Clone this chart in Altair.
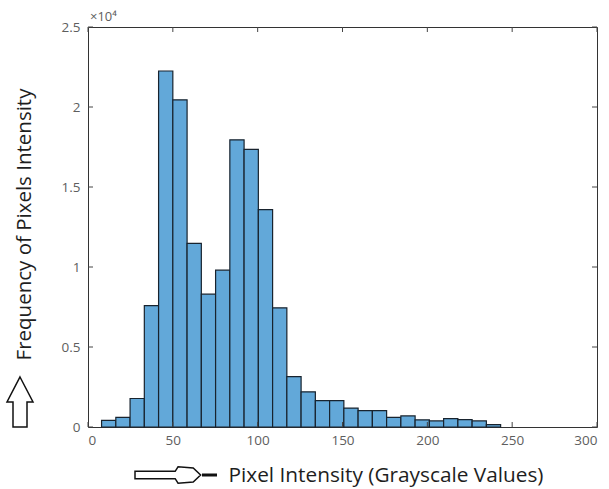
import altair as alt
import pandas as pd

# Histogram bins (left / right edges) and counts
bin_left = [8.0, 16.4, 24.8, 33.2, 41.6, 50.0, 58.4, 66.8, 75.2, 83.6, 92.0, 100.4, 108.8, 117.2,
            125.6, 134.0, 142.4, 150.8, 159.2, 167.6, 176.0, 184.4, 192.8, 201.2, 209.6, 218.0, 226.4, 234.8]
bin_right = [16.4, 24.8, 33.2, 41.6, 50.0, 58.4, 66.8, 75.2, 83.6, 92.0, 100.4, 108.8, 117.2, 125.6,
             134.0, 142.4, 150.8, 159.2, 167.6, 176.0, 184.4, 192.8, 201.2, 209.6, 218.0, 226.4, 234.8, 243.2]
counts = [420, 600, 1780, 7580, 22250, 20450, 11480, 8300, 9800, 17950, 17350, 13580, 7450, 3150,
          2200, 1650, 1650, 1180, 1020, 1020, 600, 690, 450, 380, 520, 460, 380, 150]

x_ticks = [0, 50, 100, 150, 200, 250, 300]
y_ticks = [0, 5000, 10000, 15000, 20000, 25000]

x_title = "Pixel Intensity (Grayscale Values)"
y_title = "Frequency of Pixels Intensity"
exp_label = "×10⁴"

W, H = 509, 400
xs = alt.Scale(domain=[0, 300], nice=False, zero=False)
ys = alt.Scale(domain=[0, 25000], nice=False)

LABEL_FONT = "Open Sans"
TITLE_FONT = "Open Sans"

x_axis = alt.Axis(values=x_ticks, tickSize=0, domain=False, grid=False,
                  labelFont=LABEL_FONT, labelFontSize=13.5, labelColor="#5e5e5e",
                  labelPadding=6, title=x_title, titleFont=TITLE_FONT,
                  titleFontSize=20.8, titleFontWeight="normal", titleColor="#1e1e1e",
                  titleX=140, titleY=48, titleAlign="left", titleBaseline="middle",
                  titleAnchor="start")
y_axis = alt.Axis(values=y_ticks, tickSize=0, domain=False, grid=False,
                  labelExpr="datum.value / 10000",
                  labelFont=LABEL_FONT, labelFontSize=13.5, labelColor="#5e5e5e",
                  labelPadding=8, title=y_title, titleFont=TITLE_FONT,
                  titleFontSize=20.5, titleFontWeight="normal", titleColor="#1e1e1e",
                  titleX=-64, titleY=197, titleAngle=-90, titleAlign="center",
                  titleBaseline="middle")

bars_df = pd.DataFrame({"x0": bin_left, "x1": bin_right, "count": counts})

bars = alt.Chart(bars_df).mark_rect(
    fill="#62a8d9", stroke="#18232e", strokeWidth=1.2, opacity=1
).encode(
    x=alt.X("x0:Q", scale=xs, axis=x_axis),
    x2="x1:Q",
    y=alt.Y("count:Q", scale=ys, axis=y_axis),
    y2=alt.datum(0),
)

xt_df = pd.DataFrame({"x0": x_ticks})
yt_df = pd.DataFrame({"count": y_ticks})
tick_color = "#444444"

xt_bottom = alt.Chart(xt_df).mark_rule(color=tick_color, strokeWidth=1).encode(
    x=alt.X("x0:Q", scale=xs, axis=x_axis), y=alt.value(H), y2=alt.value(H - 5))
xt_top = alt.Chart(xt_df).mark_rule(color=tick_color, strokeWidth=1).encode(
    x=alt.X("x0:Q", scale=xs, axis=x_axis), y=alt.value(0), y2=alt.value(5))
yt_left = alt.Chart(yt_df).mark_rule(color=tick_color, strokeWidth=1).encode(
    y=alt.Y("count:Q", scale=ys, axis=y_axis), x=alt.value(0), x2=alt.value(5))
yt_right = alt.Chart(yt_df).mark_rule(color=tick_color, strokeWidth=1).encode(
    y=alt.Y("count:Q", scale=ys, axis=y_axis), x=alt.value(W), x2=alt.value(W - 5))

one = pd.DataFrame({"a": [0]})

exp_text = alt.Chart(one).mark_text(
    text=exp_label, font=LABEL_FONT, fontSize=13, color="#5e5e5e", align="left", baseline="middle"
).encode(x=alt.value(2), y=alt.value(-10))

up_arrow_path = "M0,-1 L0.52,0 L0.28,0 L0.28,1 L-0.28,1 L-0.28,0 L-0.52,0 Z"
right_arrow_path = ("M-1,-0.09 L-0.02,-0.09 L0.05,-0.2 L0.42,-0.17 L0.6,0 L0.42,0.17 "
                    "L0.05,0.2 L-0.02,0.09 L-1,0.09 Z")

up_arrow = alt.Chart(one).mark_point(
    shape=up_arrow_path, size=2500, filled=True, fill="white", stroke="#111111",
    strokeWidth=1.5, opacity=1
).encode(x=alt.value(-68), y=alt.value(375))

right_arrow = alt.Chart(one).mark_point(
    shape=right_arrow_path, size=6724, filled=True, fill="white", stroke="#111111",
    strokeWidth=1.5, opacity=1
).encode(x=alt.value(88), y=alt.value(H + 48))

arrow_dash = alt.Chart(one).mark_rule(color="#111111", strokeWidth=3).encode(
    x=alt.value(114), x2=alt.value(129), y=alt.value(H + 48))

chart = alt.layer(
    bars, xt_bottom, xt_top, yt_left, yt_right, exp_text, up_arrow, right_arrow, arrow_dash
).properties(
    width=W, height=H,
    padding={"left": 88, "top": 27, "right": 12, "bottom": 62},
    autosize=alt.AutoSizeParams(type="none"),
).configure_view(stroke="#333333", strokeWidth=1)

chart.save("out.html", embed_options={"renderer": "svg", "actions": False})
